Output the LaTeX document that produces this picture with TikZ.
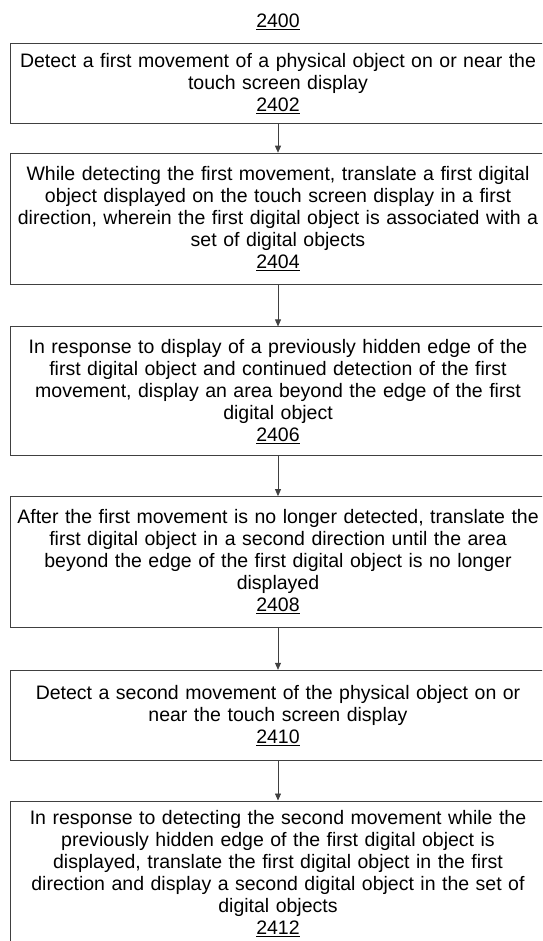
\documentclass[tikz,border=0pt]{standalone}
\usepackage{fontspec}
\setmainfont{Liberation Sans}
\usetikzlibrary{arrows.meta, positioning}

\begin{document}
\begin{tikzpicture}[
    x=1pt, y=-1pt,
    stepbox/.style={draw=black!75, line width=0.7pt, minimum width=536pt,
                    text width=528pt, align=center, inner sep=0pt,
                    font=\fontsize{19.5}{22}\selectfont},
    arr/.style={-{Triangle[length=7pt, width=6pt]}, line width=0.7pt, draw=black!75},
    node distance=40pt
]
\useasboundingbox (0,0) rectangle (542,941);
\clip (0,0) rectangle (542,941);
\node[font=\fontsize{19.5}{22}\selectfont] (title) at (278,22) {\underline{2400}};
\node[stepbox, minimum height=80pt, anchor=north] (s2402) at (278,43)
    {Detect a first movement of a physical object on or near the\\
     touch screen display\\ \underline{2402}};
\node[stepbox, minimum height=131pt, below=29pt of s2402] (s2404)
    {While detecting the first movement, translate a first digital\\
     object displayed on the touch screen display in a first\\
     direction, wherein the first digital object is associated with a\\
     set of digital objects\\ \underline{2404}};
\node[stepbox, minimum height=129pt, below=42pt of s2404] (s2406)
    {In response to display of a previously hidden edge of the\\
     first digital object and continued detection of the first\\
     movement, display an area beyond the edge of the first\\
     digital object\\ \underline{2406}};
\node[stepbox, minimum height=131pt, below=of s2406] (s2408)
    {After the first movement is no longer detected, translate the\\
     first digital object in a second direction until the area\\
     beyond the edge of the first digital object is no longer\\
     displayed\\ \underline{2408}};
\node[stepbox, minimum height=90pt, below=42pt of s2408] (s2410)
    {Detect a second movement of the physical object on or\\
     near the touch screen display\\ \underline{2410}};
\node[stepbox, minimum height=146pt, below=of s2410] (s2412)
    {In response to detecting the second movement while the\\
     previously hidden edge of the first digital object is\\
     displayed, translate the first digital object in the first\\
     direction and display a second digital object in the set of\\
     digital objects\\ \underline{2412}};

\draw[arr] (s2402) -- (s2404);
\draw[arr] (s2404) -- (s2406);
\draw[arr] (s2406) -- (s2408);
\draw[arr] (s2408) -- (s2410);
\draw[arr] (s2410) -- (s2412);
\end{tikzpicture}
\end{document}
